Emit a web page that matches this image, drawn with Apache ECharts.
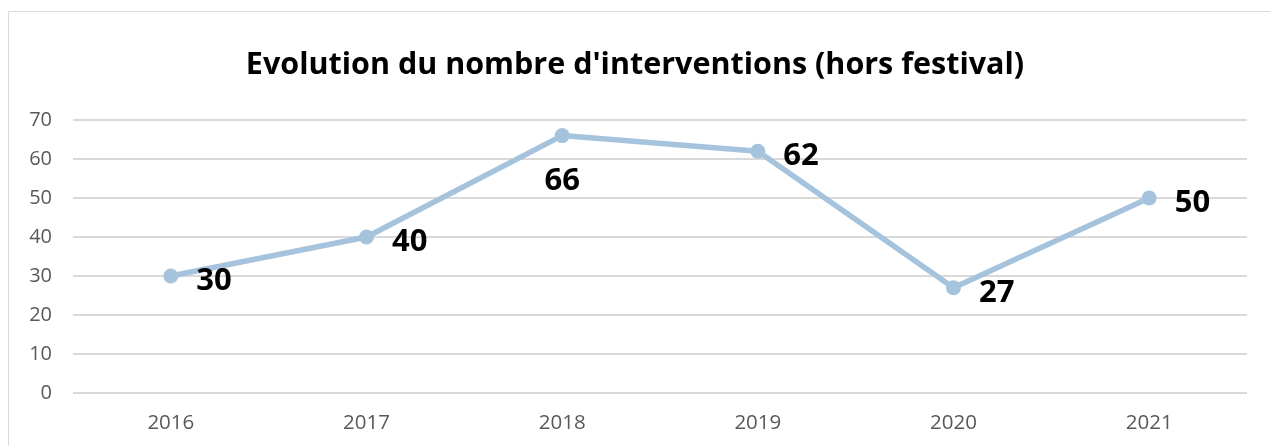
<!DOCTYPE html>
<html>
<head>
<meta charset="utf-8">
<script src="https://cdn.jsdelivr.net/npm/echarts@6/dist/echarts.min.js"></script>
<style>
  html, body { margin: 0; padding: 0; background: #fff; }
  #chart { width: 1270px; height: 446px; }
</style>
</head>
<body>
<div id="chart"></div>
<script>
  var years = ['2016', '2017', '2018', '2019', '2020', '2021'];
  var interventions = [30, 40, 66, 62, 27, 50];
  var yTicks = { min: 0, max: 70, step: 10 };
  var labelPos = ['right', 'right', 'bottom', 'right', 'right', 'right'];

  var chart = echarts.init(document.getElementById('chart'));

  var option = {
    animation: false,
    title: {
      text: "Evolution du nombre d'interventions (hors festival)",
      left: 'center',
      top: 45,
      textStyle: {
        fontFamily: 'Open Sans',
        fontWeight: 'bold',
        fontSize: 30.5,
        color: '#000'
      }
    },
    graphic: [{
      type: 'rect',
      shape: { x: 8.5, y: 11.5, width: 1400, height: 600 },
      style: { fill: 'none', stroke: '#d9d9d9', lineWidth: 1 },
      silent: true
    }],
    grid: {
      top: 120,
      bottom: 53,
      left: 73,
      right: 23
    },
    xAxis: {
      type: 'category',
      data: years,
      axisLine: { show: false },
      axisTick: { show: false },
      axisLabel: {
        margin: 20,
        fontSize: 20.5,
        fontFamily: 'Open Sans',
        color: '#595959'
      }
    },
    yAxis: {
      type: 'value',
      min: yTicks.min,
      max: yTicks.max,
      interval: yTicks.step,
      axisLine: { show: false },
      axisTick: { show: false },
      splitLine: { lineStyle: { color: '#d9d9d9', width: 2 } },
      axisLabel: {
        margin: 21,
        fontSize: 20,
        fontFamily: 'Open Sans',
        color: '#595959'
      }
    },
    series: [{
      name: 'interventions',
      type: 'line',
      data: interventions.map(function (v, i) {
        return {
          value: v,
          label: { position: labelPos[i] }
        };
      }),
      symbol: 'circle',
      symbolSize: 15,
      lineStyle: { width: 5.5, color: '#a5c3dc' },
      itemStyle: { color: '#a5c3dc' },
      label: {
        show: true,
        distance: 18,
        offset: [0, 5],
        fontFamily: 'Open Sans',
        fontWeight: 'bold',
        fontSize: 31,
        color: '#000'
      }
    }]
  };

  chart.setOption(option);
</script>
</body>
</html>
